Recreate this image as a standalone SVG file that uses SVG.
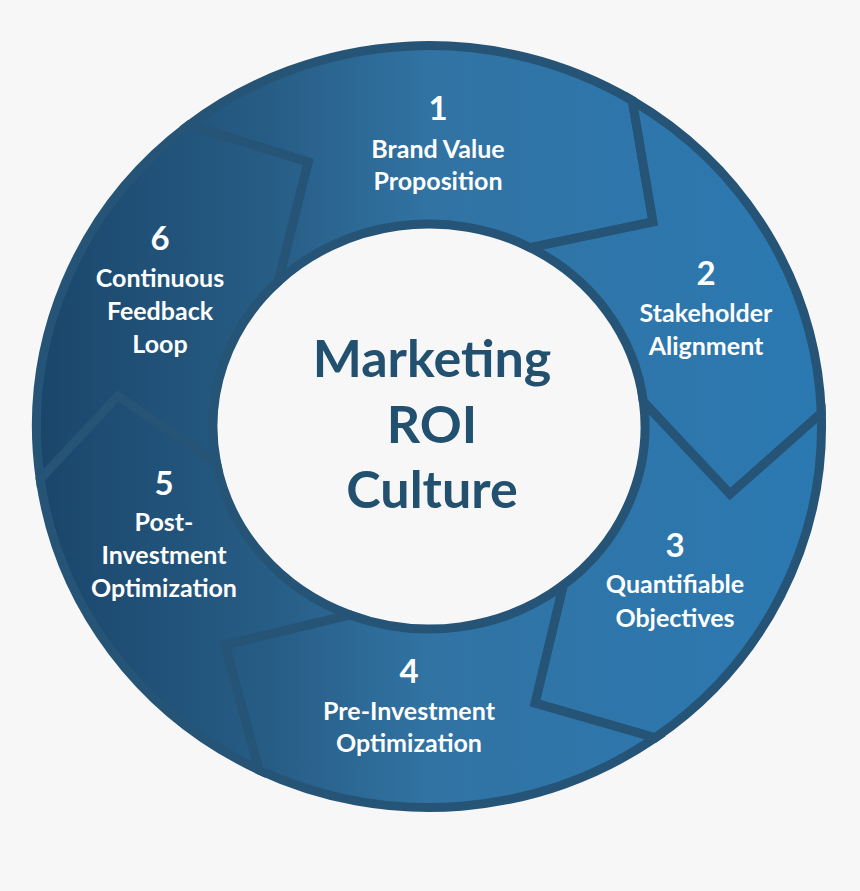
<svg xmlns="http://www.w3.org/2000/svg" width="860" height="891" viewBox="0 0 860 891">
  <defs>
    <linearGradient id="ringFill" gradientUnits="userSpaceOnUse" x1="32" y1="0" x2="826" y2="0">
      <stop offset="0" stop-color="#1a456a"/>
      <stop offset="0.3" stop-color="#275d85"/>
      <stop offset="0.5" stop-color="#3173a3"/>
      <stop offset="1" stop-color="#2b79b2"/>
    </linearGradient>
  </defs>
  <style>
    .seg { fill: url(#ringFill); stroke: #255477; stroke-width: 9; stroke-linejoin: miter; }
    .num { font-family: Lato, "Liberation Sans", sans-serif; font-weight: 700; font-size: 33px; fill: #ffffff; text-anchor: middle; }
    .lbl { font-family: Lato, "Liberation Sans", sans-serif; font-weight: 700; font-size: 25px; fill: #ffffff; text-anchor: middle; }
    .ctr { font-family: Lato, "Liberation Sans", sans-serif; font-weight: 700; font-size: 52px; fill: #22506f; text-anchor: middle; }
  </style>
  <rect x="0" y="0" width="860" height="891" fill="#f7f7f7"/>

  <g id="step1">
    <path class="seg" d="M189.0,125.1 A392.5,381 0 0 1 632.3,100.6 L653,222 L530.4,247.7 A216,202.5 0 0 0 278.1,281.6 L308,162 Z"/>
    <text class="num" x="438" y="120">1</text>
    <text class="lbl" x="438" y="158">Brand Value</text>
    <text class="lbl" x="438" y="190">Proposition</text>
  </g>
  <g id="step2">
    <path class="seg" d="M632.3,100.6 A392.5,381 0 0 1 821.3,413.2 L730,494 L643.4,401.8 A216,202.5 0 0 0 530.4,247.7 L653,222 Z"/>
    <text class="num" x="706" y="285">2</text>
    <text class="lbl" x="706" y="322">Stakeholder</text>
    <text class="lbl" x="706" y="355">Alignment</text>
  </g>
  <g id="step3">
    <path class="seg" d="M821.3,413.2 A392.5,381 0 0 1 655.2,737.8 L535,703 L563.2,585.2 A216,202.5 0 0 0 643.4,401.8 L730,494 Z"/>
    <text class="num" x="675" y="557">3</text>
    <text class="lbl" x="675" y="593">Quantifiable</text>
    <text class="lbl" x="675" y="627">Objectives</text>
  </g>
  <g id="step4">
    <path class="seg" d="M655.2,737.8 A392.5,381 0 0 1 258.8,769.8 L225,645 L349.5,614.8 A216,202.5 0 0 0 563.2,585.2 L535,703 Z"/>
    <text class="num" x="409" y="683">4</text>
    <text class="lbl" x="409" y="720">Pre-Investment</text>
    <text class="lbl" x="409" y="752">Optimization</text>
  </g>
  <g id="step5">
    <path class="seg" d="M258.8,769.8 A392.5,381 0 0 1 40.2,478.9 L118,396 L216.4,462.4 A216,202.5 0 0 0 349.5,614.8 L225,645 Z"/>
    <text class="num" x="164" y="495">5</text>
    <text class="lbl" x="164" y="531">Post-</text>
    <text class="lbl" x="164" y="564">Investment</text>
    <text class="lbl" x="164" y="597">Optimization</text>
  </g>
  <g id="step6">
    <path class="seg" d="M40.2,478.9 A392.5,381 0 0 1 189.0,125.1 L308,162 L278.1,281.6 A216,202.5 0 0 0 216.4,462.4 L118,396 Z"/>
    <text class="num" x="160" y="250">6</text>
    <text class="lbl" x="160" y="287">Continuous</text>
    <text class="lbl" x="160" y="320">Feedback</text>
    <text class="lbl" x="160" y="353">Loop</text>
  </g>

  <g id="center">
    <text class="ctr" x="432" y="377">Marketing</text>
    <text class="ctr" x="432" y="443">ROI</text>
    <text class="ctr" x="432" y="508">Culture</text>
  </g>
  <g id="connectors"></g>
</svg>
